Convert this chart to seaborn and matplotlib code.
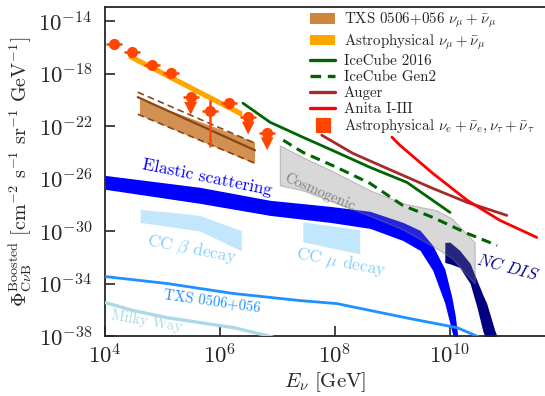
import numpy as np
import pandas as pd
import matplotlib
matplotlib.use("Agg")
import matplotlib.pyplot as plt
import seaborn as sns
from matplotlib.patches import Patch
from matplotlib.lines import Line2D

sns.set_style("ticks")
plt.rcParams["font.family"] = ["serif"]
plt.rcParams["font.serif"] = ["cmr10", "DejaVu Serif"]
plt.rcParams["mathtext.fontset"] = "cm"
plt.rcParams["axes.unicode_minus"] = False
plt.rcParams["axes.formatter.use_mathtext"] = True

# ---------------- data: log10(E/GeV) and log10(flux) ----------------
# IceCube astrophysical nu_e + nu_tau points
astro_logE = [4.16, 4.47, 4.82, 5.15, 5.49, 5.83, 6.16, 6.49, 6.82]
astro_logF = [-15.76, -16.37, -17.36, -17.97, -19.80, -20.87, -20.26, -21.30, -22.50]
astro_err_lo = [0, 0, 0, 0, 0, 2.75, 0, 0, 0]
astro_err_hi = [0, 0, 0, 0, 0, 0.84, 0, 0, 0]
astro_is_limit = [False, False, False, False, True, False, False, True, True]
astro_bin_halfwidth = 0.14
limit_arrow = 0.85

# astrophysical nu_mu band
numu_logE = [4.40, 6.38]
numu_hi = [-16.38, -20.85]
numu_lo = [-16.82, -21.30]

# TXS 0506+056 nu_mu band and its lines
txs_logE = [4.60, 6.60]
txs_fill_hi = [-19.95, -23.20]
txs_fill_lo = [-21.15, -24.85]
txs_line_logE = [4.57, 6.61]
txs_dash_hi = [-19.42, -23.31]
txs_solid = [-19.80, -23.85]
txs_dash_lo = [-21.10, -24.84]

# IceCube 2016 limit
ic16_logE = [6.40, 6.87, 7.44, 8.03, 8.61, 9.25, 10.00]
ic16_logF = [-20.26, -21.71, -22.85, -24.00, -25.15, -26.29, -28.58]

# IceCube Gen2 sensitivity
gen2_logE = [7.10, 7.44, 8.03, 8.61, 9.18, 9.70, 10.30, 10.82]
gen2_logF = [-23.08, -24.00, -25.15, -26.37, -28.05, -28.96, -30.18, -31.10]

# Auger limit
auger_logE = [7.77, 8.31, 8.90, 9.70, 10.30, 10.99]
auger_logF = [-22.70, -24.08, -25.22, -26.75, -27.82, -28.81]

# ANITA I-III limit
anita_logE = [8.99, 9.13, 9.70, 10.30, 10.87, 11.51]
anita_logF = [-22.85, -23.47, -25.60, -27.66, -29.19, -30.49]

# cosmogenic band
cosmo_logE = [7.04, 7.44, 8.03, 8.61, 9.18, 9.77, 10.03, 10.43]
cosmo_hi = [-23.47, -24.38, -25.60, -26.90, -27.89, -28.43, -29.04, -30.87]
cosmo_lo = [-26.52, -26.90, -27.90, -28.85, -29.88, -31.33, -32.05, -34.00]

# boosted C-nu-B: elastic scattering band
elastic_logE = [4.00, 5.65, 6.87, 7.91, 8.61, 9.18, 9.48, 9.70, 9.91, 10.03, 10.09, 10.15]
elastic_hi = [-25.76, -26.67, -27.66, -28.12, -28.50, -29.34, -29.95, -31.10, -32.90, -35.00, -36.40, -38.50]
elastic_lo = [-26.82, -27.89, -28.81, -29.34, -29.80, -30.72, -31.48, -33.00, -35.50, -37.60, -38.60, -39.00]

# NC DIS band
ncdis_logE = [9.91, 10.00, 10.17, 10.35, 10.47, 10.57, 10.64, 10.78, 10.87]
ncdis_hi = [-30.87, -30.85, -31.48, -32.47, -33.77, -34.84, -35.53, -37.59, -38.60]
ncdis_lo = [-32.40, -32.50, -32.78, -34.00, -35.83, -37.60, -38.50, -40.00, -40.00]

# CC beta decay band
ccb_logE = [4.61, 5.11, 5.65, 6.37]
ccb_hi = [-28.36, -28.55, -28.82, -29.97]
ccb_lo = [-29.35, -29.65, -30.00, -31.51]

# CC mu decay band
ccmu_logE = [7.44, 8.43]
ccmu_hi = [-29.30, -29.91]
ccmu_lo = [-30.83, -31.74]

# TXS 0506+056 boosted flux
txsb_logE = [4.00, 5.08, 6.23, 7.39, 8.03, 9.30, 10.12, 10.57]
txsb_logF = [-33.47, -34.00, -34.76, -35.30, -35.53, -36.67, -37.36, -38.20]

# Milky Way boosted flux
mw_logE = [4.00, 4.49, 5.08, 5.65, 6.23, 6.82, 7.17]
mw_logF = [-35.45, -36.06, -36.60, -36.98, -37.36, -37.97, -38.40]

x_ticks = [4, 6, 8, 10]
y_ticks = [-14, -18, -22, -26, -30, -34, -38]


def p(v):
    return np.power(10.0, np.asarray(v, dtype=float))


fig = plt.figure(figsize=(5.45, 3.96), dpi=100)
ax = fig.add_axes([105 / 545, 60 / 396, 441 / 545, 329 / 396])
ax.set_xscale("log")
ax.set_yscale("log")

# ---- bands ----
ax.fill_between(p(elastic_logE), p(elastic_lo), p(elastic_hi), color="blue", lw=0, zorder=2)
ax.fill_between(p(ccb_logE), p(ccb_lo), p(ccb_hi), color="lightskyblue", alpha=0.5, lw=0, zorder=2)
ax.fill_between(p(ccmu_logE), p(ccmu_lo), p(ccmu_hi), color="lightskyblue", alpha=0.5, lw=0, zorder=3)
ax.fill_between(p(ncdis_logE), p(ncdis_lo), p(ncdis_hi), color="navy", lw=0, zorder=2)
ax.fill_between(p(cosmo_logE), p(cosmo_lo), p(cosmo_hi), facecolor=(0.5, 0.5, 0.5, 0.3),
                edgecolor=(0.5, 0.5, 0.5, 0.45), lw=0.8, zorder=3)
ax.fill_between(p(numu_logE), p(numu_lo), p(numu_hi), color="orange", lw=0, zorder=4)
ax.fill_between(p(txs_logE), p(txs_fill_lo), p(txs_fill_hi), color="peru", alpha=0.9, lw=0, zorder=4)

# ---- lines ----
def line(xs, ys, **kw):
    sns.lineplot(x=p(xs), y=p(ys), ax=ax, sort=False, **kw)

line(txsb_logE, txsb_logF, color="dodgerblue", lw=2.0, zorder=4)
line(mw_logE, mw_logF, color="lightblue", lw=2.4, zorder=4)
line(ic16_logE, ic16_logF, color="darkgreen", lw=2.0, zorder=5)
line(gen2_logE, gen2_logF, color="darkgreen", lw=2.2, linestyle=(0, (3.2, 2.0)), zorder=5)
line(auger_logE, auger_logF, color="brown", lw=2.0, zorder=5)
line(anita_logE, anita_logF, color="red", lw=2.0, zorder=5)
line(txs_line_logE, txs_dash_hi, color="saddlebrown", lw=1.2, linestyle=(0, (4, 2.5)), zorder=5)
line(txs_line_logE, txs_solid, color="saddlebrown", lw=1.6, zorder=5)
line(txs_line_logE, txs_dash_lo, color="saddlebrown", lw=1.2, linestyle=(0, (4, 2.5)), zorder=5)

# ---- astrophysical points ----
aE = p(astro_logE)
aF = p(astro_logF)
xerr = [aE - aE / 10 ** astro_bin_halfwidth, aE * 10 ** astro_bin_halfwidth - aE]
yerr = [aF - aF / p(astro_err_lo), aF * p(astro_err_hi) - aF]
ax.errorbar(aE, aF, xerr=xerr, yerr=yerr, fmt="o", color="orangered", ms=7,
            elinewidth=1.8, capsize=0, zorder=6)
lim = np.array(astro_is_limit)
for e, f in zip(aE[lim], aF[lim]):
    ax.plot([e, e], [f, f / 10 ** limit_arrow], color="orangered", lw=1.8, zorder=6)
sns.scatterplot(x=aE[lim], y=aF[lim] / 10 ** limit_arrow, ax=ax, marker="v", s=85,
                color="orangered", edgecolor="none", zorder=7)

# ---- in-plot labels ----
def label(le, lf, s, **kw):
    ax.text(10 ** le, 10 ** lf, s, ha="center", va="center", **kw)

label(5.77, -25.95, "Elastic scattering", color="blue", fontsize=12.5, rotation=-11.5)
label(7.74, -27.05, "Cosmogenic", color="gray", fontsize=10.5, rotation=-23, zorder=4)
label(5.50, -31.40, r"CC $\beta$ decay", color="lightskyblue", fontsize=12.5, rotation=-11)
label(8.10, -32.40, r"CC $\mu$ decay", color="lightskyblue", fontsize=12.5, rotation=-11)
label(11.00, -32.75, r"$NC\ DIS$", color="navy", fontsize=12, rotation=-15)
label(5.86, -35.37, "TXS 0506+056", color="dodgerblue", fontsize=10.5, rotation=-8)
label(4.73, -36.90, "Milky Way", color="lightblue", fontsize=10.5, rotation=-10)

# ---- axes ----
ax.set_xlim(1e4, 10 ** 11.67)
ax.set_ylim(1e-38, 10 ** -12.93)
ax.set_xticks(p(x_ticks))
ax.set_yticks(p(y_ticks))
ax.minorticks_off()
ax.tick_params(direction="in", length=7, width=1.2, labelsize=16.5, top=False, right=False)
ax.tick_params(axis="y", pad=9)
ax.tick_params(axis="x", pad=5)
for s in ax.spines.values():
    s.set_linewidth(1.3)
ax.set_xlabel(r"$E_\nu\ [\mathrm{GeV}]$", fontsize=15, labelpad=2)
ax.set_ylabel(r"$\Phi^{\mathrm{Boosted}}_{\mathrm{C}\nu\mathrm{B}}\ [\mathrm{cm}^{-2}\ \mathrm{s}^{-1}\ \mathrm{sr}^{-1}\ \mathrm{GeV}^{-1}]$",
              fontsize=14.5, labelpad=3)

# ---- legend ----
handles = [
    Patch(facecolor="peru", edgecolor="none"),
    Patch(facecolor="orange", edgecolor="none"),
    Line2D([], [], color="darkgreen", lw=2.4),
    Line2D([], [], color="darkgreen", lw=2.4, linestyle=(0, (3.2, 2.0))),
    Line2D([], [], color="brown", lw=2.4),
    Line2D([], [], color="red", lw=2.4),
    Line2D([], [], marker="s", ms=11, color="orangered", markeredgecolor="white",
           markeredgewidth=0.6, linestyle="none"),
]
labels = [
    r"TXS 0506+056 $\nu_\mu+\bar{\nu}_\mu$",
    r"Astrophysical $\nu_\mu+\bar{\nu}_\mu$",
    "IceCube 2016",
    "IceCube Gen2",
    "Auger",
    "Anita I-III",
    r"Astrophysical $\nu_e+\bar{\nu}_e,\nu_\tau+\bar{\nu}_\tau$",
]
ax.legend(handles, labels, loc="upper right", bbox_to_anchor=(1.0, 1.025), frameon=False,
          fontsize=10.8, handlelength=1.7, handletextpad=0.55, labelspacing=0.15, borderpad=0.3)

fig.savefig("out.png", dpi=100)
